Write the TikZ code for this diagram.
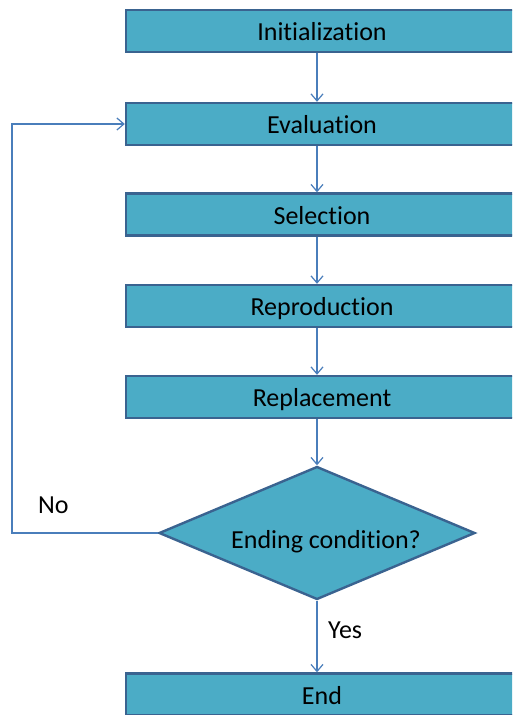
\documentclass[tikz,border=0pt]{standalone}
\usepackage{fontspec}
\setmainfont{Carlito}[Ligatures=NoCommon]
\usetikzlibrary{shapes.geometric,arrows.meta}
\definecolor{boxfill}{HTML}{4BACC6}
\definecolor{boxline}{HTML}{3A6390}
\definecolor{flow}{HTML}{4A7EBB}
\tikzset{
  stepbox/.style={draw=boxline, fill=boxfill, line width=2.4pt, rectangle,
    minimum width=392pt, minimum height=42pt, inner sep=0pt,
    text height=21pt, text depth=2pt,
    font=\fontsize{26}{30}\selectfont},
  decision/.style={draw=boxline, fill=boxfill, line width=2.4pt, diamond,
    minimum width=316pt, minimum height=133pt, inner sep=0pt},
  flowline/.style={draw=flow, line width=1.2pt,
    -{Straight Barb[length=7pt,width=12pt,line width=1.2pt]}},
  tag/.style={font=\fontsize{26}{30}\selectfont, inner sep=0pt}
}
\begin{document}
\begin{tikzpicture}[x=1pt, y=-1pt]
  \clip (0,0) rectangle (512,715);
  \fill[white] (0,0) rectangle (512,715);

  % process steps
  \node[stepbox] (init)  at (322,31)    {Initialization};
  \node[stepbox] (eval)  at (322,124)   {Evaluation};
  \node[stepbox] (sel)   at (322,214.5) {Selection};
  \node[stepbox] (repro) at (322,306)   {Reproduction};
  \node[stepbox] (repl)  at (322,397)   {Replacement};
  \node[decision] (cond) at (317,533)   {};
  \node[tag, anchor=base] (condtext) at (326,548) {Ending condition?};
  \node[stepbox] (fin)   at (322,694.5) {End};

  % straight-down flow
  \draw[flowline] ([xshift=-5pt]init.south)  -- ([xshift=-5pt]eval.north);
  \draw[flowline] ([xshift=-5pt]eval.south)  -- ([xshift=-5pt]sel.north);
  \draw[flowline] ([xshift=-5pt]sel.south)   -- ([xshift=-5pt]repro.north);
  \draw[flowline] ([xshift=-5pt]repro.south) -- ([xshift=-5pt]repl.north);
  \draw[flowline] ([xshift=-5pt]repl.south)  -- (cond.north);
  \draw[flowline] (cond.south) -- ([xshift=-5pt]fin.north);

  % loop back to evaluation
  \coordinate (loopx) at (12,0);
  \draw[flowline] (cond.west) -- (cond.west -| loopx) -- (eval.west -| loopx) -- (eval.west);

  % branch labels
  \node[tag, anchor=base west] (no)  at (38,513)  {No};
  \node[tag, anchor=base west] (yes) at (328,638) {Yes};
\end{tikzpicture}
\end{document}
